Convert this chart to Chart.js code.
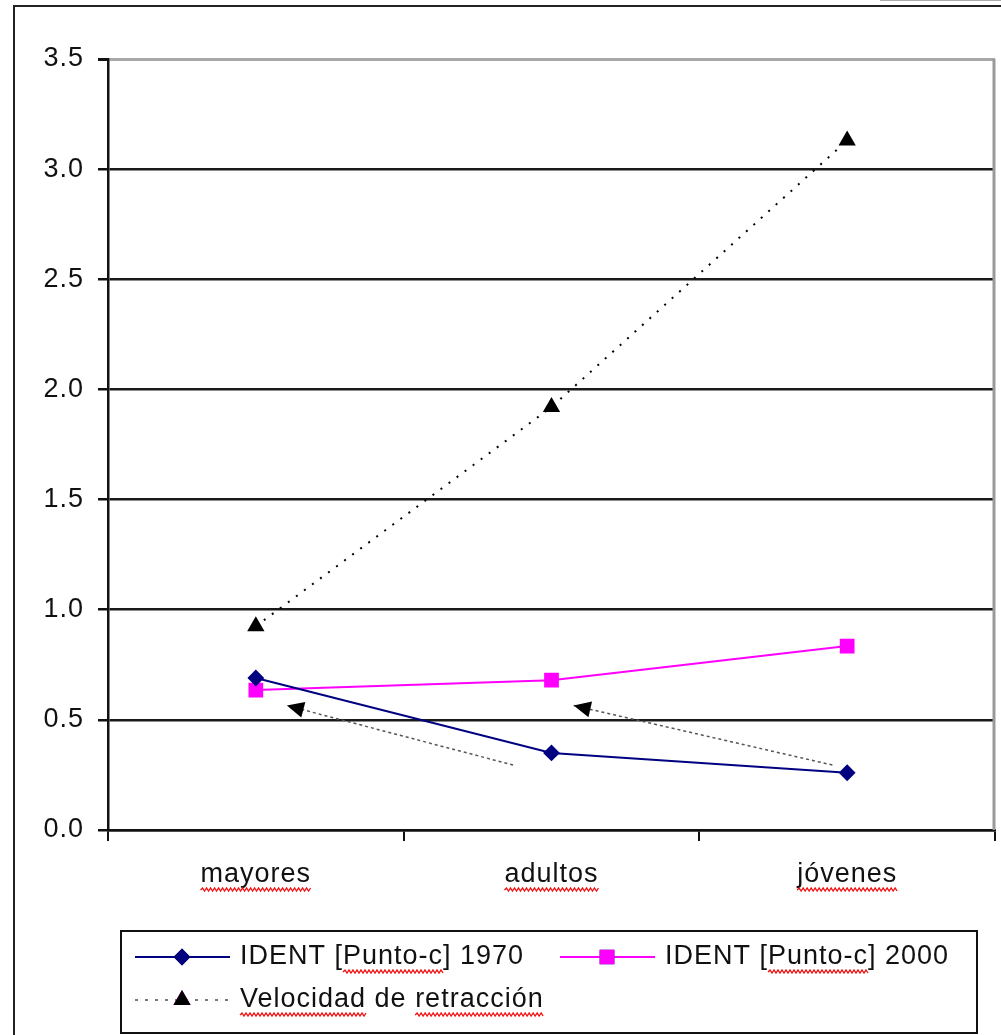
<!DOCTYPE html>
<html>
<head>
<meta charset="utf-8">
<script src="https://cdn.jsdelivr.net/npm/chart.js@4"></script>
<style>
  html, body { margin: 0; padding: 0; background: #fff; }
  canvas { display: block; }
</style>
</head>
<body>
<canvas id="chart" width="1001" height="1035"></canvas>
<script>
const categories = ['mayores', 'adultos', 'jóvenes'];
const ident1970 = [0.69, 0.35, 0.26];
const ident2000 = [0.635, 0.68, 0.835];
const velocidad = [0.925, 1.92, 3.13];
const yTicks = [0, 0.5, 1.0, 1.5, 2.0, 2.5, 3.0, 3.5];
const seriesNames = ['IDENT [Punto-c] 1970', 'IDENT [Punto-c] 2000', 'Velocidad de retracción'];

// hand-drawn arrows on the original, as [category index, value]
const arrowFrom = [[0.87, 0.295], [1.95, 0.295]];
const arrowTo = [[0.105, 0.565], [1.075, 0.565]];

const FONT = "'Liberation Sans', Arial, sans-serif";
Chart.defaults.font.family = FONT;
Chart.defaults.color = '#111';

function squiggle(ctx, x1, x2, y) {
  ctx.save();
  ctx.strokeStyle = '#f01010';
  ctx.lineWidth = 1.3;
  ctx.beginPath();
  let up = true;
  ctx.moveTo(x1, y);
  for (let x = x1 + 2; x <= x2; x += 2) {
    ctx.lineTo(x, up ? y - 2 : y + 1);
    up = !up;
  }
  ctx.stroke();
  ctx.restore();
}

const extras = {
  id: 'extras',
  beforeDraw(chart) {
    chart.ctx.letterSpacing = '1px';
  },
  afterDraw(chart) {
    const ctx = chart.ctx;
    const xs = chart.scales.x, ys = chart.scales.y;
    const area = chart.chartArea;

    // outer frame
    ctx.save();
    ctx.strokeStyle = '#222';
    ctx.lineWidth = 2;
    ctx.beginPath();
    ctx.moveTo(14, 1035);
    ctx.lineTo(14, 6);
    ctx.lineTo(1001, 6);
    ctx.stroke();
    ctx.strokeStyle = '#aaa';
    ctx.lineWidth = 1;
    ctx.beginPath();
    ctx.moveTo(880, 0.5);
    ctx.lineTo(1001, 0.5);
    ctx.stroke();

    // plot area right border
    ctx.strokeStyle = '#9a9a9a';
    ctx.lineWidth = 3;
    ctx.beginPath();
    ctx.moveTo(area.right - 1, area.top);
    ctx.lineTo(area.right - 1, area.bottom);
    ctx.stroke();

    // arrows
    for (let i = 0; i < arrowFrom.length; i++) {
      const x1 = xs.getPixelForValue(arrowFrom[i][0]);
      const y1 = ys.getPixelForValue(arrowFrom[i][1]);
      const x2 = xs.getPixelForValue(arrowTo[i][0]);
      const y2 = ys.getPixelForValue(arrowTo[i][1]);
      ctx.strokeStyle = '#555';
      ctx.lineWidth = 1.5;
      ctx.setLineDash([3, 3]);
      ctx.beginPath();
      ctx.moveTo(x1, y1);
      ctx.lineTo(x2, y2);
      ctx.stroke();
      ctx.setLineDash([]);
      const a = Math.atan2(y2 - y1, x2 - x1);
      const len = 17, half = 8;
      ctx.fillStyle = '#000';
      ctx.beginPath();
      ctx.moveTo(x2, y2);
      ctx.lineTo(x2 - len * Math.cos(a) + half * Math.sin(a), y2 - len * Math.sin(a) - half * Math.cos(a));
      ctx.lineTo(x2 - len * Math.cos(a) - half * Math.sin(a), y2 - len * Math.sin(a) + half * Math.cos(a));
      ctx.closePath();
      ctx.fill();
    }

    // spell-check squiggles under category labels
    ctx.font = '27px ' + FONT;
    categories.forEach((c, i) => {
      const w = ctx.measureText(c).width;
      const cx = xs.getPixelForValue(i);
      squiggle(ctx, cx - w / 2, cx + w / 2, 890);
    });

    // legend
    ctx.strokeStyle = '#111';
    ctx.lineWidth = 2;
    ctx.strokeRect(121, 931, 856, 102);
    const items = [
      { ds: 0, x: 135, y: 957 },
      { ds: 1, x: 560, y: 957 },
      { ds: 2, x: 135, y: 1000 }
    ];
    items.forEach(it => {
      const ds = chart.data.datasets[it.ds];
      ctx.save();
      ctx.strokeStyle = it.ds === 2 ? '#777' : ds.borderColor;
      ctx.lineWidth = 2;
      if (it.ds === 2) ctx.setLineDash([3, 7]);
      ctx.beginPath();
      ctx.moveTo(it.x, it.y);
      ctx.lineTo(it.x + 95, it.y);
      ctx.stroke();
      ctx.restore();
      Chart.helpers.drawPoint(ctx, {
        pointStyle: ds.pointStyle,
        radius: ds.pointRadius,
        borderWidth: 1
      }, it.x + 47, it.y);
      ctx.fillStyle = ds.backgroundColor;
      ctx.strokeStyle = ds.backgroundColor;
      ctx.fill();
      ctx.stroke();
      ctx.fillStyle = '#111';
      ctx.font = '27px ' + FONT;
      ctx.textBaseline = 'middle';
      ctx.textAlign = 'left';
      const tx = it.x + 105;
      ctx.fillText(seriesNames[it.ds], tx, it.y);
      // squiggles
      if (it.ds < 2) {
        const pre = ctx.measureText('IDENT [').width;
        const w = ctx.measureText('Punto-c').width;
        squiggle(ctx, tx + pre, tx + pre + w, it.y + 15);
      } else {
        const w1 = ctx.measureText('Velocidad').width;
        const pre = ctx.measureText('Velocidad de ').width;
        const w2 = ctx.measureText('retracción').width;
        squiggle(ctx, tx, tx + w1, it.y + 15);
        squiggle(ctx, tx + pre, tx + pre + w2, it.y + 15);
      }
    });
    ctx.restore();
    ctx.letterSpacing = '0px';
  }
};

new Chart(document.getElementById('chart'), {
  type: 'line',
  data: {
    labels: categories,
    datasets: [
      {
        label: seriesNames[0],
        data: ident1970,
        borderColor: '#000080',
        backgroundColor: '#000080',
        borderWidth: 2,
        pointStyle: 'rectRot',
        pointRadius: 7,
        tension: 0
      },
      {
        label: seriesNames[1],
        data: ident2000,
        borderColor: '#ff00ff',
        backgroundColor: '#ff00ff',
        borderWidth: 2,
        pointStyle: 'rect',
        pointRadius: 9,
        tension: 0
      },
      {
        label: seriesNames[2],
        data: velocidad,
        borderColor: '#000',
        backgroundColor: '#000',
        borderWidth: 2,
        borderDash: [2, 8],
        pointStyle: 'triangle',
        pointRadius: 8,
        tension: 0
      }
    ]
  },
  options: {
    responsive: false,
    animation: false,
    events: [],
    layout: { autoPadding: false, padding: { top: 59, right: 6, left: 0, bottom: 0 } },
    plugins: {
      legend: { display: false },
      tooltip: { enabled: false }
    },
    scales: {
      x: {
        offset: true,
        grid: {
          offset: true,
          drawOnChartArea: false,
          drawTicks: true,
          tickLength: 11,
          color: '#111',
          lineWidth: 2
        },
        border: { display: true, color: '#111', width: 2.5 },
        ticks: { font: { size: 27 }, color: '#111', padding: 17, maxRotation: 0 },
        afterFit(scale) {
          scale.height = 205;
          scale.paddingLeft = 0;
          scale.paddingRight = 0;
        }
      },
      y: {
        min: 0,
        max: 3.5,
        afterBuildTicks(scale) { scale.ticks = yTicks.map(v => ({ value: v })); },
        grid: {
          color: c => (c.tick && c.tick.value === 3.5 ? '#a8a8a8' : '#1a1a1a'),
          lineWidth: c => (c.tick && c.tick.value === 3.5 ? 3 : 2.5),
          tickLength: 10,
          tickColor: '#111'
        },
        border: { display: true, color: '#111', width: 2.5 },
        ticks: {
          font: { size: 27 },
          color: '#111',
          padding: 14,
          callback: v => v.toFixed(1)
        },
        afterFit(scale) { scale.width = 108; }
      }
    }
  },
  plugins: [extras]
});
</script>
</body>
</html>
